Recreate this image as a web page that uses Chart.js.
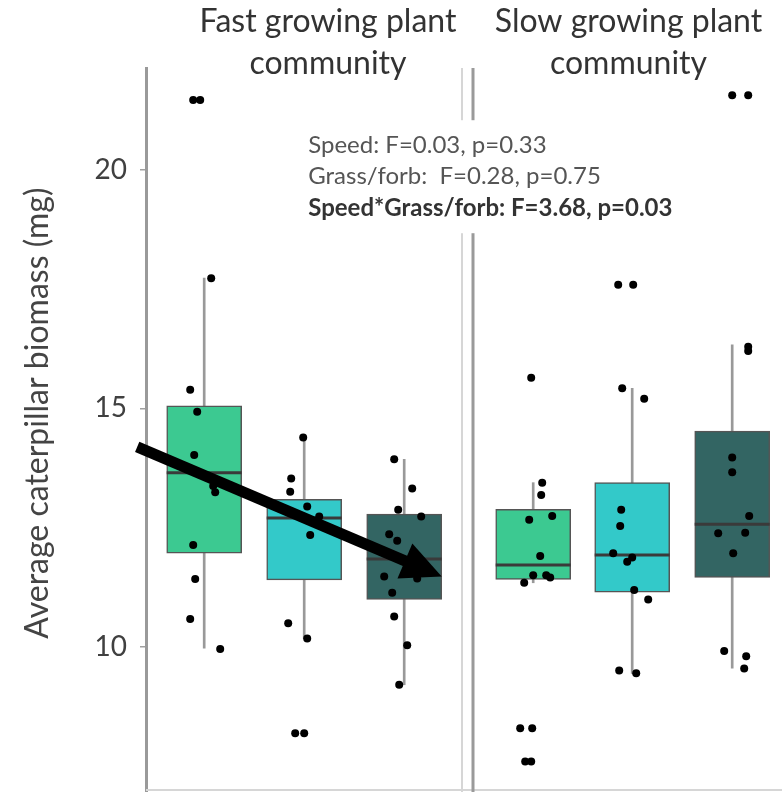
<!DOCTYPE html>
<html>
<head>
<meta charset="utf-8">
<script src="https://cdn.jsdelivr.net/npm/chart.js@4.4.1/dist/chart.umd.min.js"></script>
<style>
  html, body { margin: 0; padding: 0; background: #fff; }
  #wrap { width: 782px; height: 792px; }
</style>
</head>
<body>
<div id="wrap"><canvas id="chart" width="782" height="792"></canvas></div>
<script>
// x positions of the six boxes (fast community 1-3, slow community right of the gap)
const groupX = [1, 2, 3, 4.29, 5.28, 6.28];
const groupColors = ['#3cc991', '#33c9c9', '#336563', '#3cc991', '#33c9c9', '#336563'];

// box statistics (mg)
const q1 = [11.96, 11.40, 10.99, 11.41, 11.14, 11.45];
const median = [13.65, 12.70, 11.84, 11.71, 11.92, 12.57];
const q3 = [15.05, 13.09, 12.78, 12.88, 13.44, 14.52];
const whiskerLo = [9.97, 10.17, 9.20, 11.34, 9.44, 9.55];
const whiskerHi = [17.73, 14.39, 13.93, 13.44, 15.42, 16.33];

// jittered raw points: [x offset from box centre, biomass]
const fastPts1 = [[-0.11, 21.47], [-0.04, 21.47], [0.07, 17.73], [-0.14, 15.39], [-0.07, 14.93], [-0.10, 14.02],
  [0.09, 13.37], [0.11, 13.24], [-0.11, 12.13], [-0.09, 11.42], [-0.14, 10.58], [0.16, 9.95]];
const fastPts2 = [[-0.01, 14.39], [-0.13, 13.53], [-0.14, 13.25], [0.03, 12.94], [0.15, 12.73], [0.06, 12.34],
  [-0.16, 10.49], [0.03, 10.17], [-0.09, 8.18], [0.00, 8.18]];
const fastPts3 = [[-0.10, 13.93], [0.08, 13.32], [-0.06, 12.87], [0.17, 12.73], [-0.15, 12.36], [-0.07, 12.22],
  [-0.20, 11.47], [0.13, 11.43], [-0.12, 11.13], [-0.10, 10.63], [0.03, 10.03], [-0.05, 9.20]];
const slowPts1 = [[-0.02, 15.64], [0.09, 13.44], [0.08, 13.18], [-0.04, 12.66], [0.19, 12.74], [0.07, 11.90],
  [0.00, 11.50], [0.13, 11.50], [0.17, 11.45], [-0.09, 11.34], [-0.13, 8.29], [-0.01, 8.29], [-0.08, 7.59], [-0.02, 7.59]];
const slowPts2 = [[-0.14, 17.59], [0.01, 17.59], [-0.10, 15.42], [0.12, 15.20], [-0.11, 12.87], [-0.12, 12.53],
  [-0.19, 11.96], [0.00, 11.87], [-0.05, 11.78], [0.02, 11.19], [0.16, 10.99], [-0.13, 9.50], [0.04, 9.44]];
const slowPts3 = [[0.00, 21.57], [0.16, 21.57], [0.16, 16.29], [0.16, 16.20], [0.00, 13.97], [0.00, 13.66],
  [0.17, 12.74], [-0.14, 12.38], [0.13, 12.39], [0.01, 11.96], [-0.08, 9.91], [0.14, 9.80], [0.12, 9.54]];
const groupPoints = [fastPts1, fastPts2, fastPts3, slowPts1, slowPts2, slowPts3];

// axes
const yTicks = [10, 15, 20];
const yTitle = 'Average caterpillar biomass (mg)';
const yTitleAt = 14.9;
const stripX = [2.238, 5.243];
const stripLabels = [['Fast growing plant', 'community'], ['Slow growing plant', 'community']];
const panelEdges = [3.578, 3.688];

// annotations
const statLines = ['Speed: F=0.03, p=0.33', 'Grass/forb:  F=0.28, p=0.75', 'Speed*Grass/forb: F=3.68, p=0.03'];
const statAnchor = [2.04, 20.52];
const arrow = [0.33, 14.19, 3.375, 11.47];

const X_MIN = 0.418, X_MAX = 6.778;
const FONT = 'Lato, "Noto Sans", sans-serif';

const allPoints = [];
groupPoints.forEach((pts, i) => {
    pts.forEach(p => allPoints.push({ x: groupX[i] + p[0], y: p[1] }));
});

const panelPlugin = {
    id: 'panels',
    beforeDatasetsDraw(chart) {
        const { ctx, chartArea: a, scales: { x } } = chart;
        ctx.save();
        // light frame at the bottom and right of the fast panel
        ctx.strokeStyle = '#d6d6d6';
        ctx.lineWidth = 2;
        ctx.beginPath();
        ctx.moveTo(a.left, a.bottom - 2);
        ctx.lineTo(a.right, a.bottom - 2);
        const xr = x.getPixelForValue(panelEdges[0]);
        ctx.moveTo(xr, a.top);
        ctx.lineTo(xr, a.bottom);
        ctx.stroke();
        // axis line of the slow panel
        ctx.strokeStyle = '#9a9a9a';
        ctx.lineWidth = 3;
        ctx.beginPath();
        const xl = x.getPixelForValue(panelEdges[1]);
        ctx.moveTo(xl, a.top);
        ctx.lineTo(xl, a.bottom);
        ctx.stroke();
        ctx.restore();
    },
    afterDatasetsDraw(chart) {
        const { ctx, scales: { x, y } } = chart;
        ctx.save();
        // panel strip labels
        ctx.textAlign = 'center';
        ctx.textBaseline = 'middle';
        ctx.fillStyle = '#333';
        ctx.font = '32px ' + FONT;
        stripLabels.forEach((lines, i) => {
            const cx = x.getPixelForValue(stripX[i]);
            lines.forEach((line, j) => ctx.fillText(line, cx, 22 + j * 42));
        });
        // y axis title
        ctx.save();
        ctx.translate(38, y.getPixelForValue(yTitleAt));
        ctx.rotate(-Math.PI / 2);
        ctx.fillStyle = '#444';
        ctx.fillText(yTitle, 0, 0);
        ctx.restore();
        // statistics box
        ctx.textAlign = 'left';
        const tx = x.getPixelForValue(statAnchor[0]);
        const ty = y.getPixelForValue(statAnchor[1]);
        const lh = 31.5;
        ctx.font = 'bold 24px ' + FONT;
        const w = ctx.measureText(statLines[2]).width;
        ctx.fillStyle = '#fff';
        ctx.fillRect(tx - 8, ty - 25, w + 20, lh * 2 + 50);
        statLines.forEach((line, i) => {
            const bold = i === 2;
            ctx.font = (bold ? 'bold ' : '') + '24px ' + FONT;
            ctx.fillStyle = bold ? '#333' : '#555';
            ctx.fillText(line, tx, ty + i * lh);
        });
        // trend arrow
        const x0 = x.getPixelForValue(arrow[0]), y0 = y.getPixelForValue(arrow[1]);
        const x1 = x.getPixelForValue(arrow[2]), y1 = y.getPixelForValue(arrow[3]);
        const ang = Math.atan2(y1 - y0, x1 - x0);
        const cos = Math.cos(ang), sin = Math.sin(ang);
        const headLen = 40, headHalf = 19;
        const bx = x1 - headLen * cos, by = y1 - headLen * sin;
        ctx.strokeStyle = '#000';
        ctx.lineWidth = 11;
        ctx.beginPath();
        ctx.moveTo(x0, y0);
        ctx.lineTo(bx + 2 * cos, by + 2 * sin);
        ctx.stroke();
        ctx.fillStyle = '#000';
        ctx.beginPath();
        ctx.moveTo(x1, y1);
        ctx.lineTo(bx - headHalf * sin, by + headHalf * cos);
        ctx.lineTo(bx + headHalf * sin, by - headHalf * cos);
        ctx.closePath();
        ctx.fill();
        ctx.restore();
    }
};

new Chart(document.getElementById('chart'), {
    type: 'bar',
    data: {
        datasets: [
            {
                type: 'scatter',
                label: 'Caterpillars',
                data: allPoints,
                pointRadius: 4,
                pointBackgroundColor: '#000',
                pointBorderWidth: 0,
                order: 0
            },
            {
                type: 'scatter',
                label: 'Median',
                data: groupX.map((gx, i) => ({ x: gx, y: median[i] })),
                pointStyle: 'line',
                pointRadius: 37.5,
                pointBorderColor: '#3a3a3a',
                pointBorderWidth: 3,
                order: 1
            },
            {
                label: 'Box',
                data: groupX.map((gx, i) => ({ x: gx, y: [q1[i], q3[i]] })),
                backgroundColor: groupColors,
                borderColor: '#555',
                borderWidth: 1.5,
                borderSkipped: false,
                barThickness: 75,
                grouped: false,
                order: 2
            },
            {
                label: 'Whisker',
                data: groupX.map((gx, i) => ({ x: gx, y: [whiskerLo[i], whiskerHi[i]] })),
                backgroundColor: '#999',
                borderWidth: 0,
                barThickness: 2,
                grouped: false,
                order: 3
            }
        ]
    },
    options: {
        responsive: false,
        animation: false,
        events: [],
        layout: { padding: { top: 68, left: 0, right: 0, bottom: 0 }, autoPadding: false },
        plugins: {
            legend: { display: false },
            tooltip: { enabled: false }
        },
        scales: {
            x: {
                type: 'linear',
                display: false,
                min: X_MIN,
                max: X_MAX,
                offset: false
            },
            y: {
                min: 6.95,
                max: 22.14,
                afterBuildTicks: s => { s.ticks = yTicks.map(v => ({ value: v })); },
                afterFit: s => {
                    s.width = 146;
                    s.paddingTop = 0;
                    s.paddingBottom = 0;
                },
                grid: { drawOnChartArea: false, tickLength: 6, color: '#a0a0a0', lineWidth: 1.5 },
                border: { color: '#9a9a9a', width: 3 },
                ticks: {
                    padding: 13,
                    color: '#404040',
                    font: { family: FONT, size: 28 }
                }
            }
        }
    },
    plugins: [panelPlugin]
});
</script>
</body>
</html>
